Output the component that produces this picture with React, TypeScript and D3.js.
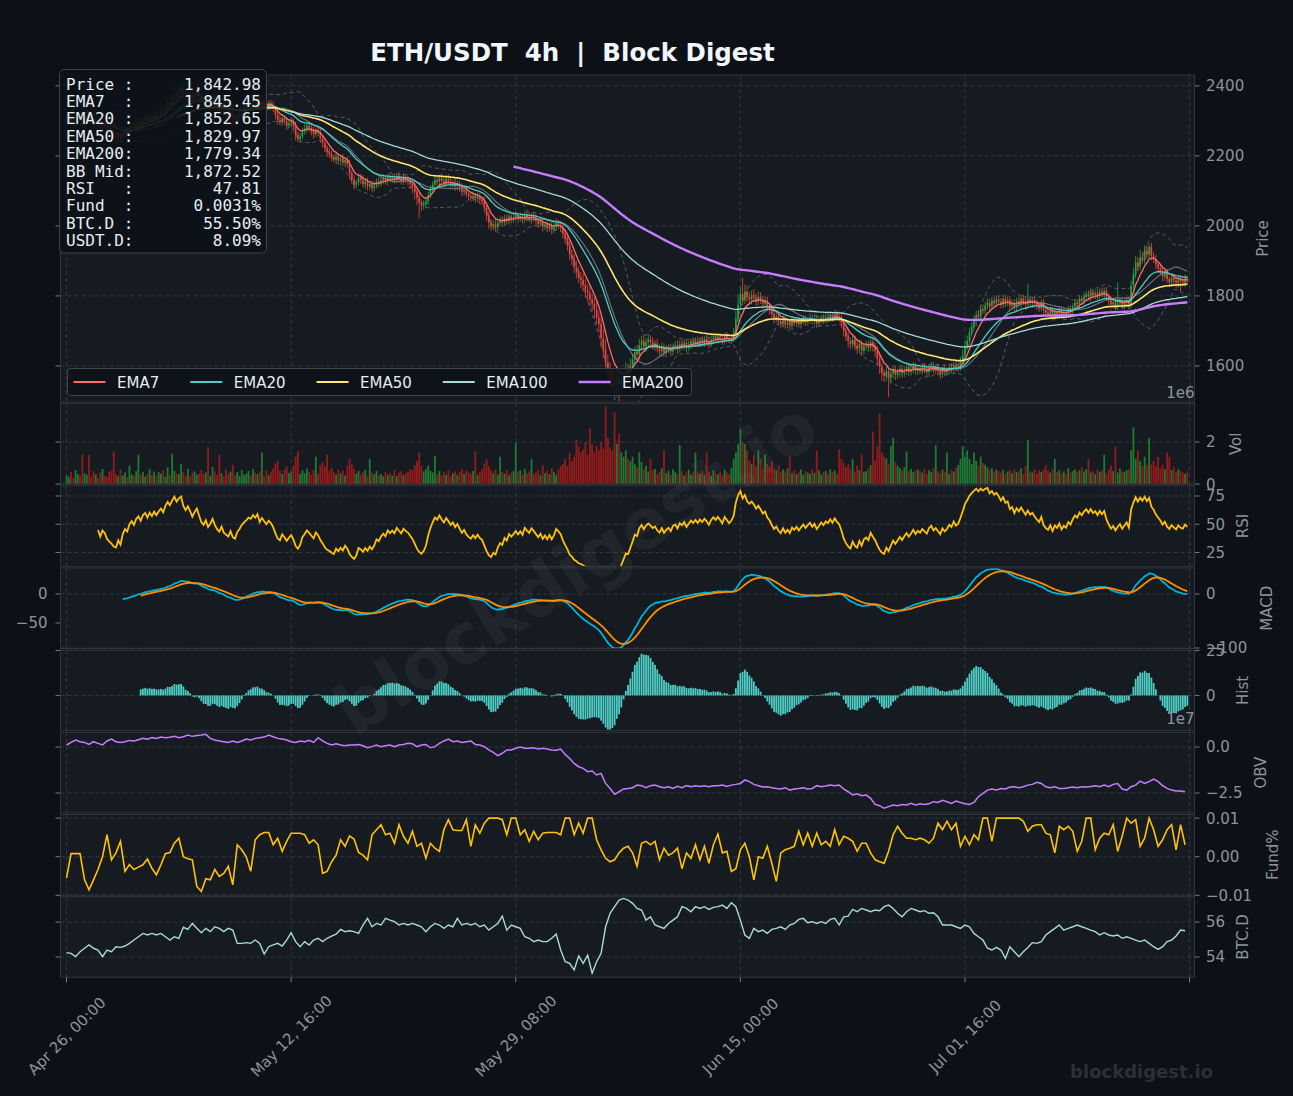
import { useEffect, useRef } from "react";
import * as d3 from "d3";

// 4h ETH/USDT closes starting Apr 26 00:00 UTC (open = previous close)
const closes: number[] = [
  2305, 2312, 2298, 2290, 2301, 2315, 2308, 2296, 2303, 2318, 2310, 2297, 2289, 2302, 2294, 2281, 2290, 2285, 2272, 2266,
  2260, 2252, 2249, 2258, 2247, 2262, 2271, 2266, 2279, 2285, 2278, 2290, 2296, 2288, 2301, 2306, 2298, 2310, 2304, 2315,
  2309, 2318, 2326, 2320, 2338, 2351, 2346, 2362, 2378, 2370, 2384, 2392, 2376, 2368, 2381, 2372, 2360, 2374, 2386, 2371,
  2355, 2348, 2360, 2342, 2351, 2365, 2349, 2336, 2328, 2341, 2322, 2315, 2308, 2321, 2300, 2294, 2310, 2318, 2329, 2336,
  2342, 2350, 2347, 2358, 2352, 2362, 2345, 2356, 2348, 2341, 2350, 2344, 2335, 2318, 2302, 2296, 2308, 2299, 2287, 2293,
  2298, 2285, 2260, 2248, 2255, 2271, 2278, 2286, 2279, 2270, 2262, 2274, 2266, 2250, 2238, 2222, 2210, 2205, 2196, 2189,
  2198, 2186, 2192, 2180, 2188, 2176, 2150, 2132, 2118, 2124, 2138, 2131, 2119, 2126, 2112, 2120, 2108, 2115, 2127, 2121,
  2130, 2136, 2128, 2140, 2133, 2138, 2131, 2142, 2135, 2128, 2137, 2132, 2128, 2120, 2112, 2098, 2080, 2066, 2058, 2062,
  2070, 2088, 2104, 2118, 2131, 2126, 2138, 2129, 2122, 2134, 2127, 2118, 2124, 2113, 2120, 2109, 2098, 2104, 2092, 2085,
  2080, 2086, 2078, 2084, 2075, 2070, 2052, 2030, 2010, 1998, 2005, 1996, 2008, 2016, 2009, 2022, 2014, 2027, 2019, 2024,
  2030, 2021, 2027, 2018, 2032, 2025, 2019, 2028, 2022, 2014, 2006, 2012, 1998, 2004, 1994, 2001, 1989, 1996, 2008, 2002,
  1995, 1978, 1962, 1945, 1918, 1905, 1882, 1870, 1852, 1845, 1832, 1815, 1808, 1790, 1778, 1762, 1738, 1720, 1680, 1648,
  1610, 1590, 1575, 1562, 1550, 1566, 1548, 1561, 1575, 1590, 1584, 1600, 1618, 1640, 1633, 1660, 1672, 1655, 1668, 1676,
  1668, 1659, 1664, 1650, 1642, 1655, 1638, 1646, 1652, 1641, 1656, 1660, 1648, 1663, 1657, 1666, 1652, 1661, 1670, 1664,
  1672, 1665, 1674, 1668, 1677, 1671, 1663, 1675, 1682, 1676, 1684, 1678, 1671, 1686, 1680, 1673, 1679, 1690, 1735, 1775,
  1805, 1788, 1812, 1796, 1790, 1802, 1795, 1784, 1798, 1789, 1778, 1786, 1770, 1762, 1748, 1735, 1742, 1728, 1720, 1733,
  1718, 1726, 1715, 1729, 1722, 1730, 1719, 1727, 1734, 1725, 1732, 1738, 1728, 1735, 1722, 1729, 1737, 1731, 1740, 1736,
  1745, 1738, 1748, 1741, 1736, 1722, 1700, 1684, 1671, 1662, 1675, 1658, 1650, 1663, 1644, 1657, 1661, 1652, 1668, 1655,
  1642, 1620, 1598, 1580, 1572, 1585, 1566, 1578, 1590, 1575, 1583, 1592, 1579, 1588, 1596, 1583, 1591, 1600, 1586, 1594,
  1588, 1597, 1590, 1583, 1596, 1601, 1589, 1594, 1586, 1578, 1590, 1582, 1587, 1596, 1591, 1603, 1594, 1598, 1612, 1630,
  1655, 1672, 1695, 1712, 1728, 1745, 1740, 1762, 1758, 1772, 1780, 1770, 1786, 1779, 1790, 1784, 1776, 1792, 1781, 1788,
  1772, 1780, 1767, 1785, 1778, 1792, 1784, 1776, 1790, 1781, 1787, 1779, 1772, 1766, 1780, 1760, 1752, 1747, 1758, 1742,
  1756, 1749, 1760, 1744, 1753, 1748, 1762, 1756, 1770, 1781, 1776, 1792, 1786, 1797, 1805, 1798, 1810, 1802, 1808, 1800,
  1812, 1806, 1815, 1798, 1787, 1776, 1782, 1771, 1779, 1785, 1774, 1781, 1788, 1776, 1830, 1862, 1895, 1884, 1910, 1902,
  1930, 1918, 1940, 1915, 1906, 1890, 1880, 1870, 1855, 1866, 1848, 1839, 1852, 1844, 1836, 1849, 1841, 1838, 1850, 1842.98,
];

// wick length above / below the body, in USDT
const highWick: number[] = [
  8, 12, 6, 10, 14, 7, 9, 11, 5, 13, 8, 10, 6, 12, 9, 7, 11, 8, 10, 6,
  9, 7, 12, 8, 10, 6, 14, 9, 7, 11, 8, 13, 6, 10, 12, 7, 9, 11, 8, 10,
  12, 9, 14, 8, 11, 16, 10, 13, 20, 9, 15, 22, 11, 8, 14, 10, 12, 9, 16, 11,
  10, 14, 8, 12, 9, 15, 11, 7, 13, 10, 8, 12, 9, 14, 7, 11, 10, 13, 8, 12,
  9, 11, 8, 14, 10, 12, 7, 13, 9, 11, 8, 10, 12, 7, 9, 14, 10, 8, 12, 9,
  11, 8, 13, 9, 12, 10, 14, 8, 11, 9, 13, 7, 10, 12, 8, 11, 9, 13, 10, 8,
  12, 9, 11, 14, 8, 10, 13, 9, 12, 8, 11, 10, 14, 9, 12, 8, 10, 13, 9, 11,
  8, 12, 10, 9, 13, 8, 11, 10, 12, 9, 14, 8, 11, 10, 9, 12, 8, 13, 10, 11,
  14, 9, 12, 10, 11, 13, 8, 12, 9, 10, 14, 11, 8, 12, 10, 9, 13, 8, 11, 10,
  9, 12, 8, 11, 10, 9, 14, 10, 12, 9, 11, 13, 8, 10, 12, 9, 11, 10, 8, 12,
  10, 8, 12, 9, 11, 10, 13, 8, 10, 12, 9, 11, 10, 8, 12, 9, 10, 11, 13, 9,
  12, 10, 14, 11, 13, 12, 15, 18, 14, 16, 20, 15, 18, 22, 17, 20, 24, 18, 22, 26,
  28, 22, 20, 18, 25, 30, 22, 26, 18, 20, 16, 22, 18, 15, 20, 17, 14, 18, 12, 15,
  12, 14, 10, 13, 11, 12, 9, 14, 10, 12, 8, 11, 13, 9, 12, 10, 8, 11, 9, 12,
  10, 12, 8, 11, 9, 13, 10, 12, 9, 11, 8, 10, 12, 9, 11, 10, 13, 18, 24, 30,
  22, 48, 20, 18, 16, 14, 18, 12, 15, 13, 11, 14, 12, 10, 13, 11, 12, 10, 9, 11,
  10, 12, 9, 11, 8, 10, 12, 9, 11, 10, 8, 12, 9, 11, 10, 14, 9, 11, 10, 12,
  11, 9, 12, 10, 14, 11, 13, 10, 12, 9, 11, 10, 13, 12, 10, 9, 11, 12, 10, 14,
  12, 15, 13, 11, 10, 14, 12, 10, 13, 11, 9, 12, 10, 11, 9, 12, 10, 11, 9, 10,
  9, 11, 10, 12, 9, 10, 11, 9, 12, 10, 8, 11, 9, 10, 12, 9, 11, 10, 14, 16,
  18, 15, 14, 12, 16, 13, 15, 12, 14, 11, 13, 12, 10, 12, 11, 13, 10, 12, 11, 10,
  12, 10, 11, 9, 13, 10, 12, 11, 45, 10, 9, 12, 11, 10, 9, 12, 10, 11, 9, 10,
  10, 9, 11, 10, 12, 9, 10, 11, 9, 12, 10, 11, 9, 13, 10, 11, 12, 10, 9, 11,
  10, 12, 9, 11, 10, 12, 9, 11, 60, 10, 11, 9, 10, 12, 14, 18, 20, 16, 22, 15,
  16, 14, 8, 12, 10, 11, 9, 10, 12, 9, 11, 8, 10, 9, 11, 8, 10, 9, 11, 8,
];
const lowWick: number[] = [
  9, 7, 11, 8, 10, 12, 6, 9, 13, 8, 10, 7, 11, 9, 12, 8, 10, 7, 11, 9,
  12, 8, 10, 14, 9, 11, 7, 10, 8, 12, 9, 11, 7, 10, 8, 9, 12, 8, 10, 7,
  10, 8, 12, 9, 11, 10, 13, 9, 11, 8, 12, 10, 14, 9, 11, 12, 8, 10, 9, 13,
  11, 9, 12, 10, 8, 13, 9, 11, 10, 12, 9, 14, 10, 8, 12, 10, 11, 9, 13, 10,
  8, 10, 12, 9, 11, 8, 13, 10, 9, 12, 8, 11, 10, 14, 12, 9, 11, 10, 13, 9,
  10, 12, 16, 9, 11, 8, 10, 12, 9, 11, 13, 8, 10, 12, 14, 11, 13, 10, 12, 9,
  11, 10, 13, 9, 12, 10, 16, 12, 14, 11, 9, 12, 10, 13, 11, 9, 12, 10, 8, 11,
  9, 11, 10, 12, 8, 11, 10, 9, 12, 10, 11, 9, 13, 15, 18, 22, 20, 45, 16, 12,
  12, 10, 9, 11, 13, 10, 12, 9, 11, 10, 12, 9, 11, 13, 10, 12, 14, 11, 10, 12,
  11, 9, 12, 10, 13, 11, 14, 16, 18, 12, 10, 13, 11, 9, 12, 10, 11, 9, 12, 10,
  10, 12, 9, 11, 10, 12, 9, 13, 10, 11, 12, 9, 14, 10, 12, 11, 13, 10, 9, 11,
  12, 14, 13, 16, 15, 18, 17, 20, 16, 22, 18, 20, 24, 19, 22, 26, 20, 24, 28, 25,
  30, 26, 35, 28, 32, 38, 50, 30, 26, 22, 20, 18, 16, 15, 18, 14, 16, 13, 15, 12,
  14, 12, 15, 11, 13, 16, 12, 14, 10, 13, 11, 12, 14, 10, 12, 11, 13, 10, 12, 11,
  10, 12, 9, 11, 13, 10, 12, 9, 11, 10, 12, 9, 11, 10, 12, 9, 10, 11, 12, 10,
  12, 15, 11, 13, 12, 14, 11, 13, 10, 12, 14, 11, 13, 15, 12, 14, 11, 13, 12, 10,
  12, 10, 11, 13, 9, 11, 10, 12, 9, 11, 10, 12, 9, 11, 13, 10, 9, 11, 10, 12,
  10, 12, 9, 11, 10, 14, 16, 12, 18, 14, 11, 13, 15, 12, 16, 11, 13, 12, 10, 14,
  16, 18, 20, 22, 18, 15, 55, 18, 14, 16, 12, 15, 13, 11, 14, 12, 10, 13, 11, 12,
  11, 13, 10, 12, 14, 11, 10, 12, 13, 15, 11, 12, 10, 13, 11, 12, 10, 11, 12, 10,
  12, 10, 13, 11, 12, 14, 11, 13, 10, 12, 11, 13, 10, 12, 11, 10, 12, 11, 13, 10,
  11, 12, 10, 13, 11, 12, 10, 14, 11, 12, 10, 11, 13, 12, 10, 14, 12, 11, 13, 12,
  12, 11, 13, 10, 12, 11, 10, 12, 11, 13, 10, 12, 11, 10, 12, 11, 13, 10, 11, 12,
  11, 10, 12, 11, 13, 12, 11, 13, 12, 10, 12, 11, 13, 12, 10, 11, 12, 13, 11, 10,
  10, 12, 11, 13, 12, 14, 12, 11, 13, 12, 11, 14, 12, 11, 13, 12, 30, 11, 12, 10,
];

// volume per candle, in units of 10k ETH
const volume: number[] = [
  42, 35, 58, 30, 66, 48, 39, 140, 52, 44, 138, 36, 61, 47, 29, 55, 72, 40, 33, 58,
  64, 155, 48, 37, 70, 41, 55, 32, 88, 46, 39, 62, 140, 45, 58, 36, 50, 71, 44, 60,
  38, 57, 49, 66, 35, 80, 43, 145, 62, 51, 47, 95, 58, 40, 72, 36, 54, 61, 45, 50,
  67, 48, 55, 175, 39, 82, 61, 44, 140, 52, 36, 70, 48, 59, 92, 41, 57, 38, 66, 45,
  50, 63, 41, 72, 55, 47, 60, 150, 38, 66, 43, 58, 75, 98, 112, 64, 49, 70, 85, 52,
  61, 88, 130, 155, 47, 66, 52, 74, 58, 43, 69, 130, 48, 92, 105, 84, 140, 62, 77, 58,
  45, 70, 52, 64, 41, 88, 120, 96, 73, 50, 62, 44, 57, 68, 39, 120, 55, 47, 63, 42,
  48, 36, 59, 44, 52, 40, 67, 38, 55, 61, 43, 50, 58, 72, 66, 90, 110, 150, 85, 60,
  72, 88, 64, 56, 135, 47, 62, 41, 58, 45, 66, 39, 52, 60, 44, 58, 70, 48, 63, 55,
  50, 62, 155, 44, 58, 72, 96, 118, 84, 66, 52, 70, 45, 130, 58, 49, 66, 41, 55, 62,
  195, 58, 66, 44, 72, 50, 61, 120, 47, 55, 68, 43, 90, 52, 64, 48, 75, 58, 44, 70,
  85, 96, 120, 88, 150, 110, 130, 210, 180, 150, 165, 200, 140, 265, 190, 150, 180, 160, 200, 170,
  370, 220, 175, 160, 340, 190, 240, 150, 130, 160, 120, 110, 130, 95, 80, 150, 105, 70, 88, 60,
  120, 66, 72, 48, 58, 75, 160, 52, 64, 44, 70, 58, 47, 185, 62, 40, 55, 68, 45, 60,
  150, 55, 48, 62, 44, 150, 58, 39, 66, 52, 47, 60, 43, 70, 55, 48, 75, 120, 150, 190,
  260, 200, 190, 160, 110, 95, 140, 88, 160, 120, 75, 140, 96, 80, 110, 72, 66, 90, 58, 70,
  60, 75, 130, 52, 66, 48, 58, 70, 44, 62, 55, 48, 70, 54, 160, 66, 45, 58, 62, 50,
  70, 58, 66, 48, 165, 120, 100, 80, 95, 72, 120, 60, 88, 66, 140, 58, 62, 75, 90, 250,
  110, 180, 335, 150, 130, 120, 95, 180, 220, 105, 88, 76, 66, 80, 155, 60, 72, 58, 66, 70,
  62, 55, 70, 48, 66, 58, 75, 185, 60, 52, 70, 58, 150, 48, 66, 60, 75, 90, 120, 180,
  130, 160, 120, 95, 150, 110, 88, 130, 100, 92, 80, 66, 75, 58, 70, 62, 55, 68, 48, 60,
  66, 52, 70, 58, 62, 75, 48, 88, 210, 60, 55, 70, 48, 66, 58, 72, 90, 64, 55, 70,
  120, 58, 66, 52, 60, 48, 75, 55, 62, 70, 58, 66, 80, 60, 72, 120, 55, 62, 48, 70,
  58, 66, 140, 52, 70, 88, 62, 180, 55, 75, 60, 58, 66, 70, 160, 270, 120, 160, 110, 85,
  130, 90, 220, 95, 110, 85, 130, 75, 92, 70, 150, 130, 66, 80, 58, 70, 62, 55, 48, 60,
];

// 8h series (one value per two candles)
// funding rate, in units of 0.0001 %
const fundingRate: number[] = [
  -55, 8, 8, 8, -60, -86, -60, -33, 0, 57,
  -8, 10, 40, -38, -20, -33, -27, -21, -6, -30,
  -47, -21, 8, 11, 35, 48, 0, -5, -8, -77,
  -90, -57, -60, -33, -51, -43, -25, -73, 31, 18,
  0, -38, 44, 57, 63, 63, 31, 48, 14, 40,
  61, 61, 61, 57, 35, 44, 31, -43, -38, -13,
  4, 44, 27, 54, 46, 11, 4, -8, 57, 70,
  83, 57, 61, 35, 83, 53, 35, 66, 27, 35,
  -4, 35, 22, 14, 70, 96, 70, 68, 68, 96,
  27, 83, 61, 87, 100, 100, 100, 96, 57, 100,
  100, 57, 70, 40, 66, 44, 61, 63, 63, 63,
  57, 100, 100, 57, 87, 61, 100, 100, 44, 18,
  -4, -13, -8, 10, 22, 27, 10, -25, 35, 40,
  31, 40, -8, 22, 4, 10, 22, -31, 10, -4,
  31, -8, 27, -17, 31, 59, 10, 14, -38, -31,
  18, 35, 0, -60, 0, -4, 27, -17, -64, 10,
  18, 22, 27, 66, 31, 61, 27, 61, 31, 40,
  27, 70, 31, 53, 48, 40, 14, 35, 35, 10,
  -8, -13, -17, 14, 57, 79, 61, 48, 48, 44,
  48, 44, 35, 48, 87, 70, 92, 70, 87, 27,
  53, 31, 57, 44, 100, 100, 40, 100, 100, 100,
  100, 100, 100, 92, 66, 79, 83, 83, 61, 57,
  10, 79, 70, 79, 66, 14, 40, 100, 100, 18,
  48, 61, 57, 83, 14, 53, 100, 87, 96, 27,
  48, 100, 70, 27, 44, 70, 83, 18, 83, 31,
];
// BTC dominance, %
const btcDominance: number[] = [
  54.25, 54.21, 54.02, 54.3, 54.5, 54.69, 54.5, 54.4, 54.02, 54.4,
  54.3, 54.59, 54.55, 54.63, 54.78, 54.97, 55.16, 55.35, 55.26, 55.35,
  55.26, 55.35, 55.16, 54.97, 55.16, 55.07, 55.7, 55.58, 55.92, 55.64,
  55.39, 55.64, 55.45, 55.73, 55.64, 55.45, 55.64, 55.54, 54.78, 54.78,
  54.82, 54.78, 54.97, 54.78, 54.17, 54.59, 54.69, 54.78, 54.63, 54.97,
  55.39, 54.88, 54.59, 54.88, 54.69, 54.97, 55.07, 54.88, 55.07, 55.2,
  55.31, 55.58, 55.45, 55.5, 55.45, 55.35, 55.83, 56.21, 55.73, 55.92,
  55.83, 56.21, 56.11, 56.02, 55.83, 55.92, 55.83, 55.92, 55.83, 55.73,
  55.45, 55.73, 55.92, 55.83, 55.64, 55.83, 55.73, 56.21, 55.83, 55.92,
  55.83, 55.92, 55.73, 55.83, 55.54, 55.73, 55.92, 56.34, 55.54, 55.83,
  55.73, 55.64, 55.16, 55.07, 54.88, 54.97, 54.88, 54.88, 55.07, 55.31,
  54.4, 53.73, 53.64, 53.26, 54.06, 53.64, 54.11, 53.07, 53.73, 54.21,
  55.73, 56.5, 56.88, 57.26, 57.35, 57.26, 57.07, 56.78, 56.69, 56.11,
  56.3, 55.83, 55.73, 55.64, 55.92, 56.11, 56.3, 56.88, 56.78, 56.59,
  56.88, 56.78, 56.88, 56.72, 56.84, 56.88, 56.97, 56.78, 57.1, 56.88,
  56.11, 55.26, 55.07, 55.64, 55.45, 55.54, 55.35, 55.58, 55.64, 55.73,
  55.58, 55.83, 55.92, 56.15, 56.21, 55.96, 56.02, 55.92, 56.02, 55.92,
  56.15, 56.21, 55.83, 56.3, 56.34, 56.72, 56.59, 56.78, 56.69, 56.59,
  56.69, 56.65, 56.88, 56.97, 56.78, 56.5, 56.3, 56.59, 56.78, 56.69,
  56.59, 56.65, 56.5, 56.53, 56.3, 55.83, 55.83, 55.83, 55.73, 55.64,
  55.83, 55.73, 55.35, 55.16, 54.97, 54.5, 54.4, 54.55, 54.4, 53.92,
  54.59, 54.3, 54.02, 54.3, 54.55, 54.82, 54.78, 54.88, 55.26, 55.45,
  55.64, 55.83, 55.54, 55.64, 55.73, 55.83, 55.73, 55.64, 55.54, 55.45,
  55.26, 55.39, 55.26, 55.2, 55.26, 55.07, 55.16, 55.07, 54.97, 54.88,
  54.97, 54.78, 54.59, 54.44, 54.59, 54.88, 54.97, 55.2, 55.54, 55.5,
];
// on-balance volume, in units of 1e5
const obvSeries: number[] = [
  11, 25, 38, 29, 25, 14, 29, 20, 11, 33,
  43, 29, 25, 29, 36, 33, 40, 47, 43, 51,
  47, 54, 51, 53, 58, 51, 56, 65, 58, 62,
  65, 69, 47, 38, 33, 29, 25, 33, 25, 33,
  43, 38, 47, 51, 54, 65, 56, 47, 43, 38,
  29, 25, 33, 29, 36, 25, 51, 33, 20, 11,
  18, 11, 7, 11, 11, 14, 7, -4, 2, 11,
  2, 7, 11, 2, 11, 14, 20, 18, 2, 11,
  14, -4, 2, 20, 33, 43, 29, 33, 25, 29,
  33, 14, 11, 2, -16, -29, -47, -34, -16, -16,
  -7, 0, -7, -7, -4, -11, -7, -11, -16, -18,
  -11, -40, -62, -89, -107, -116, -134, -130, -152, -143,
  -198, -225, -257, -243, -228, -225, -221, -207, -210, -221,
  -210, -207, -216, -221, -216, -225, -214, -221, -210, -216,
  -210, -214, -210, -216, -210, -210, -207, -214, -207, -203,
  -198, -179, -188, -203, -210, -217, -216, -221, -225, -228,
  -221, -234, -228, -225, -221, -228, -225, -210, -216, -212,
  -207, -210, -207, -228, -243, -261, -254, -265, -261, -279,
  -312, -319, -333, -324, -315, -319, -312, -315, -306, -315,
  -308, -312, -308, -297, -301, -290, -297, -306, -294, -301,
  -308, -312, -301, -270, -252, -234, -228, -234, -225, -228,
  -217, -216, -221, -216, -207, -203, -192, -198, -216, -221,
  -216, -225, -225, -221, -217, -221, -216, -217, -214, -210,
  -216, -207, -216, -203, -198, -228, -234, -216, -207, -185,
  -198, -188, -174, -188, -210, -225, -234, -239, -239, -243,
];

const infoLabels = ["Price :", "EMA7  :", "EMA20 :", "EMA50 :", "EMA200:", "BB Mid:", "RSI   :", "Fund  :", "BTC.D :", "USDT.D:"];
const infoValues = ["1,842.98", "1,845.45", "1,852.65", "1,829.97", "1,779.34", "1,872.52", "47.81", "0.0031%", "55.50%", "8.09%"];

const emaSpans = [7, 20, 50, 100, 200];
const emaNames = ["EMA7", "EMA20", "EMA50", "EMA100", "EMA200"];
const xTickIdx = [0, 100, 200, 300, 400, 500];

const W = 1293;
const H = 1096;
const BG = "#0d1117";
const PANEL_BG = "#161b22";
const GRID = "#3a4049";
const SPINE = "#30363d";
const MUTED = "#8b949e";
const TEXT = "#e6edf3";
const UP = "#26a641";
const DOWN = "#f0453a";
const UP_VOL = "#1f7a32";
const DOWN_VOL = "#951b1b";
const EMA_COLORS = ["#ff6b6b", "#4ecdc4", "#ffe66d", "#a8dadc", "#c77dff"];
const EMA_WIDTHS = [1.3, 1.3, 1.6, 1.3, 2.4];
const SANS = "DejaVu Sans, Verdana, sans-serif";
const MONO = "DejaVu Sans Mono, monospace";

type PanelSpec = {
  key: string;
  top: number;
  bottom: number;
  domain: [number, number];
  ticks: number[];
  fmt: (v: number) => string;
  label: string;
  labelX: number;
};

const panelSpecs: PanelSpec[] = [
  { key: "price", top: 75, bottom: 402, domain: [1497, 2431], ticks: [1600, 1800, 2000, 2200, 2400], fmt: d3.format("d"), label: "Price", labelX: 1263 },
  { key: "vol", top: 403.5, bottom: 484.1, domain: [0, 3.83], ticks: [0, 2], fmt: d3.format("d"), label: "Vol", labelX: 1236 },
  { key: "rsi", top: 485.7, bottom: 566.3, domain: [12.8, 84.1], ticks: [25, 50, 75], fmt: d3.format("d"), label: "RSI", labelX: 1243 },
  { key: "macd", top: 567.9, bottom: 648.5, domain: [-100.9, 48.3], ticks: [-100, 0], fmt: d3.format("d"), label: "MACD", labelX: 1267 },
  { key: "hist", top: 650.1, bottom: 730.7, domain: [-19.6, 25.2], ticks: [0, 25], fmt: d3.format("d"), label: "Hist", labelX: 1243 },
  { key: "obv", top: 732.3, bottom: 812.9, domain: [-3.58, 0.8], ticks: [-2.5, 0], fmt: d3.format(".1f"), label: "OBV", labelX: 1261 },
  { key: "fund", top: 814.5, bottom: 895.1, domain: [-0.00995, 0.01095], ticks: [-0.01, 0, 0.01], fmt: d3.format(".2f"), label: "Fund%", labelX: 1273 },
  { key: "btc", top: 896.7, bottom: 977.3, domain: [52.84, 57.45], ticks: [54, 56], fmt: d3.format("d"), label: "BTC.D", labelX: 1243 },
];

// pandas-style ewm(alpha, adjust=True, min_periods)
function ewmAlpha(src: number[], a: number, minPeriods: number): number[] {
  let num = 0;
  let den = 0;
  let count = 0;
  return src.map((v) => {
    if (!Number.isFinite(v)) {
      num *= 1 - a;
      den *= 1 - a;
      return NaN;
    }
    num = v + (1 - a) * num;
    den = 1 + (1 - a) * den;
    count += 1;
    return count >= minPeriods ? num / den : NaN;
  });
}
const ewm = (src: number[], span: number) => ewmAlpha(src, 2 / (span + 1), span);

export default function App() {
  const ref = useRef<SVGSVGElement | null>(null);

  useEffect(() => {
    if (!ref.current) return;
    const svg = d3.select(ref.current);
    svg.selectAll("*").remove();

    const N = closes.length;
    const L = 60.5;
    const R = 1194.5;
    const x = d3.scaleLinear().domain([-2.7, 502.2]).range([L, R]);
    const opens = closes.map((c, i) => (i === 0 ? c : closes[i - 1]));

    // indicators
    const bbMid = closes.map((_, i) => (i < 19 ? NaN : (d3.mean(closes.slice(i - 19, i + 1)) as number)));
    const bbSd = closes.map((_, i) => (i < 19 ? NaN : (d3.deviation(closes.slice(i - 19, i + 1)) as number)));
    const bbUp = bbMid.map((m, i) => m + 2 * bbSd[i]);
    const bbLo = bbMid.map((m, i) => m - 2 * bbSd[i]);

    // Wilder-style RSI(14)
    const delta = closes.map((c, i) => (i === 0 ? NaN : c - closes[i - 1]));
    const gains = ewmAlpha(delta.map((d) => (Number.isFinite(d) ? Math.max(d, 0) : NaN)), 1 / 14, 14);
    const losses = ewmAlpha(delta.map((d) => (Number.isFinite(d) ? Math.max(-d, 0) : NaN)), 1 / 14, 14);
    const rsi = gains.map((g, i) => (losses[i] === 0 ? 100 : 100 - 100 / (1 + g / losses[i])));

    const e12 = ewm(closes, 12);
    const e26 = ewm(closes, 26);
    const macd = closes.map((_, i) => e12[i] - e26[i]);
    const signal = ewm(macd, 9);
    const hist = macd.map((m, i) => m - signal[i]);

    const pathOf = (ys: number[], yS: d3.ScaleLinear<number, number>, step = 1) =>
      d3
        .line<number>()
        .defined((v) => Number.isFinite(v))
        .x((_, i) => x(i * step))
        .y((v) => yS(v))(ys) as string;

    svg.append("rect").attr("width", W).attr("height", H).attr("fill", BG);
    const defs = svg.append("defs");

    const frames: Record<string, { y: d3.ScaleLinear<number, number>; g: any; spec: PanelSpec }> = {};

    panelSpecs.forEach((p) => {
      const y = d3.scaleLinear().domain(p.domain).range([p.bottom, p.top]);
      defs
        .append("clipPath")
        .attr("id", `clip-${p.key}`)
        .append("rect")
        .attr("x", L)
        .attr("y", p.top)
        .attr("width", R - L)
        .attr("height", p.bottom - p.top);

      svg
        .append("rect")
        .attr("x", L)
        .attr("y", p.top)
        .attr("width", R - L)
        .attr("height", p.bottom - p.top)
        .attr("fill", PANEL_BG);

      const grid = svg
        .append("g")
        .attr("stroke", GRID)
        .attr("stroke-width", 0.8)
        .attr("stroke-dasharray", "4,3");
      xTickIdx.forEach((t) =>
        grid.append("line").attr("x1", x(t)).attr("x2", x(t)).attr("y1", p.top).attr("y2", p.bottom)
      );
      p.ticks.forEach((t) =>
        grid.append("line").attr("x1", L).attr("x2", R).attr("y1", y(t)).attr("y2", y(t))
      );

      const axis = svg.append("g").attr("font-family", SANS).attr("font-size", 15).attr("fill", MUTED);
      p.ticks.forEach((t) => {
        axis.append("line").attr("x1", R).attr("x2", R + 5).attr("y1", y(t)).attr("y2", y(t)).attr("stroke", MUTED).attr("stroke-width", 0.8);
        if (p.key !== "macd") {
          axis.append("line").attr("x1", L - 5).attr("x2", L).attr("y1", y(t)).attr("y2", y(t)).attr("stroke", MUTED).attr("stroke-width", 0.8);
        }
        axis.append("text").attr("x", R + 11.5).attr("y", y(t)).attr("dy", "0.36em").text(p.fmt(t));
      });
      axis
        .append("text")
        .attr("transform", `translate(${p.labelX},${(p.top + p.bottom) / 2}) rotate(-90)`)
        .attr("text-anchor", "middle")
        .attr("dy", "0.36em")
        .text(p.label);

      const g = svg.append("g").attr("clip-path", `url(#clip-${p.key})`);
      frames[p.key] = { y, g, spec: p };
    });

    // left-hand MACD axis
    const macdLeft = d3.scaleLinear().domain([-94, 45]).range([648.5, 567.9]);
    const leftAxis = svg.append("g").attr("font-family", SANS).attr("font-size", 15).attr("fill", MUTED);
    [-50, 0].forEach((t) => {
      leftAxis.append("line").attr("x1", L - 5).attr("x2", L).attr("y1", macdLeft(t)).attr("y2", macdLeft(t)).attr("stroke", MUTED).attr("stroke-width", 0.8);
      leftAxis.append("text").attr("x", L - 13).attr("y", macdLeft(t)).attr("dy", "0.36em").attr("text-anchor", "end").text(d3.format("d")(t));
    });

    // ---- price panel ----
    const pr = frames.price;
    [bbUp, bbLo].forEach((band) =>
      pr.g
        .append("path")
        .attr("d", pathOf(band, pr.y))
        .attr("fill", "none")
        .attr("stroke", MUTED)
        .attr("stroke-opacity", 0.55)
        .attr("stroke-width", 1)
        .attr("stroke-dasharray", "4,3")
    );

    const idx = d3.range(N);
    const candleColor = (i: number) => (closes[i] >= opens[i] ? UP : DOWN);
    pr.g
      .append("g")
      .selectAll("line")
      .data(idx)
      .join("line")
      .attr("x1", (i: number) => x(i))
      .attr("x2", (i: number) => x(i))
      .attr("y1", (i: number) => pr.y(Math.max(opens[i], closes[i]) + highWick[i]))
      .attr("y2", (i: number) => pr.y(Math.min(opens[i], closes[i]) - lowWick[i]))
      .attr("stroke", candleColor)
      .attr("stroke-width", 0.8);
    pr.g
      .append("g")
      .selectAll("rect")
      .data(idx)
      .join("rect")
      .attr("x", (i: number) => x(i) - 0.8)
      .attr("width", 1.6)
      .attr("y", (i: number) => pr.y(Math.max(opens[i], closes[i])))
      .attr("height", (i: number) => Math.max(0.7, pr.y(Math.min(opens[i], closes[i])) - pr.y(Math.max(opens[i], closes[i]))))
      .attr("fill", candleColor);

    pr.g
      .append("path")
      .attr("d", pathOf(bbMid, pr.y))
      .attr("fill", "none")
      .attr("stroke", MUTED)
      .attr("stroke-opacity", 0.75)
      .attr("stroke-width", 1.1);

    emaSpans.forEach((span, k) => {
      pr.g
        .append("path")
        .attr("d", pathOf(ewm(closes, span), pr.y))
        .attr("fill", "none")
        .attr("stroke", EMA_COLORS[k])
        .attr("stroke-width", EMA_WIDTHS[k]);
    });

    // ---- volume ----
    const vo = frames.vol;
    vo.g
      .selectAll("rect")
      .data(idx)
      .join("rect")
      .attr("x", (i: number) => x(i) - 0.9)
      .attr("width", 1.8)
      .attr("y", (i: number) => vo.y(volume[i] / 100))
      .attr("height", (i: number) => vo.y(0) - vo.y(volume[i] / 100))
      .attr("fill", (i: number) => (closes[i] >= opens[i] ? UP_VOL : DOWN_VOL));

    // ---- RSI ----
    const rs = frames.rsi;
    rs.g.append("path").attr("d", pathOf(rsi, rs.y)).attr("fill", "none").attr("stroke", "#ffc107").attr("stroke-width", 1.8);

    // ---- MACD ----
    const mc = frames.macd;
    mc.g.append("path").attr("d", pathOf(macd, mc.y)).attr("fill", "none").attr("stroke", "#00b4d8").attr("stroke-width", 1.8);
    mc.g.append("path").attr("d", pathOf(signal, mc.y)).attr("fill", "none").attr("stroke", "#ff8c00").attr("stroke-width", 1.8);

    // ---- histogram ----
    const hs = frames.hist;
    hs.g
      .selectAll("rect")
      .data(idx.filter((i) => Number.isFinite(hist[i])))
      .join("rect")
      .attr("x", (i: number) => x(i) - 0.9)
      .attr("width", 1.8)
      .attr("y", (i: number) => Math.min(hs.y(hist[i]), hs.y(0)))
      .attr("height", (i: number) => Math.abs(hs.y(hist[i]) - hs.y(0)))
      .attr("fill", "#4ecdc4");

    // ---- OBV / funding / dominance (8h samples) ----
    const ob = frames.obv;
    ob.g.append("path").attr("d", pathOf(obvSeries.map((v) => v / 100), ob.y, 2)).attr("fill", "none").attr("stroke", "#c77dff").attr("stroke-width", 1.5);
    const fu = frames.fund;
    fu.g.append("path").attr("d", pathOf(fundingRate.map((v) => v / 10000), fu.y, 2)).attr("fill", "none").attr("stroke", "#ffc107").attr("stroke-width", 1.6);
    const bt = frames.btc;
    bt.g.append("path").attr("d", pathOf(btcDominance, bt.y, 2)).attr("fill", "none").attr("stroke", "#a8dadc").attr("stroke-width", 1.4);

    // spines on top
    panelSpecs.forEach((p) =>
      svg
        .append("rect")
        .attr("x", L)
        .attr("y", p.top)
        .attr("width", R - L)
        .attr("height", p.bottom - p.top)
        .attr("fill", "none")
        .attr("stroke", SPINE)
        .attr("stroke-width", 1)
    );

    // axis offset texts
    const offs = svg.append("g").attr("font-family", SANS).attr("font-size", 15).attr("fill", MUTED).attr("text-anchor", "end");
    offs.append("text").attr("x", R).attr("y", 398).text("1e6");
    offs.append("text").attr("x", R).attr("y", 724).text("1e7");

    // bottom time axis
    const start = Date.UTC(2023, 3, 26, 0, 0);
    const fmtDate = d3.utcFormat("%b %d, %H:%M");
    const xAxis = svg.append("g").attr("font-family", SANS).attr("font-size", 15).attr("fill", MUTED);
    xTickIdx.forEach((t) => {
      xAxis.append("line").attr("x1", x(t)).attr("x2", x(t)).attr("y1", 977.3).attr("y2", 982.3).attr("stroke", MUTED).attr("stroke-width", 0.8);
      if (t < N) {
        xAxis
          .append("text")
          .attr("transform", `translate(${x(t)},1036) rotate(-45)`)
          .attr("text-anchor", "middle")
          .attr("dy", "0.36em")
          .text(fmtDate(new Date(start + t * 4 * 3600 * 1000)));
      }
    });

    // legend
    const lg = svg.append("g");
    lg.append("rect")
      .attr("x", 67.5)
      .attr("y", 368.5)
      .attr("width", 624)
      .attr("height", 27)
      .attr("rx", 3)
      .attr("fill", BG)
      .attr("fill-opacity", 0.85)
      .attr("stroke", "#3d444d");
    let lx = 73.5;
    emaNames.forEach((name, k) => {
      lg.append("line").attr("x1", lx).attr("x2", lx + 32).attr("y1", 382).attr("y2", 382).attr("stroke", EMA_COLORS[k]).attr("stroke-width", k === 4 ? 2.6 : 2.2);
      const t = lg
        .append("text")
        .attr("x", lx + 43.5)
        .attr("y", 387.5)
        .attr("font-family", SANS)
        .attr("font-size", 15)
        .attr("fill", TEXT)
        .text(name);
      const w = (t.node() as SVGTextElement).getComputedTextLength();
      lx = lx + 43.5 + w + 31;
    });

    // stats box
    const ib = svg.append("g");
    ib.append("rect")
      .attr("x", 59.5)
      .attr("y", 69.5)
      .attr("width", 207)
      .attr("height", 183.5)
      .attr("rx", 5)
      .attr("fill", BG)
      .attr("fill-opacity", 0.88)
      .attr("stroke", "#3d444d");
    infoLabels.forEach((lab, k) => {
      const yy = 89.5 + k * 17.4;
      ib.append("text")
        .attr("x", 66)
        .attr("y", yy)
        .attr("font-family", MONO)
        .attr("font-size", 16)
        .attr("fill", TEXT)
        .style("white-space", "pre")
        .text(lab);
      ib.append("text")
        .attr("x", 261)
        .attr("y", yy)
        .attr("text-anchor", "end")
        .attr("font-family", MONO)
        .attr("font-size", 16)
        .attr("fill", TEXT)
        .text(infoValues[k]);
    });

    // title
    svg
      .append("text")
      .attr("x", 572.5)
      .attr("y", 60.5)
      .attr("text-anchor", "middle")
      .attr("font-family", SANS)
      .attr("font-weight", "bold")
      .attr("font-size", 24.5)
      .attr("fill", "#f0f6fc")
      .style("white-space", "pre")
      .text("ETH/USDT  4h  |  Block Digest");

    // watermarks
    svg
      .append("text")
      .attr("transform", "translate(575,567) rotate(-32.5)")
      .attr("text-anchor", "middle")
      .attr("dy", "0.36em")
      .attr("font-family", SANS)
      .attr("font-weight", "bold")
      .attr("font-size", 70)
      .attr("fill", "#ffffff")
      .attr("fill-opacity", 0.045)
      .text("blockdigest.io");
    svg
      .append("text")
      .attr("x", 1213)
      .attr("y", 1078)
      .attr("text-anchor", "end")
      .attr("font-family", SANS)
      .attr("font-weight", "bold")
      .attr("font-size", 18)
      .attr("fill", "#2a3038")
      .text("blockdigest.io");
  }, []);

  return (
    <svg
      ref={ref}
      width={W}
      height={H}
      style={{ position: "absolute", left: 0, top: 0, display: "block", background: BG }}
    />
  );
}
